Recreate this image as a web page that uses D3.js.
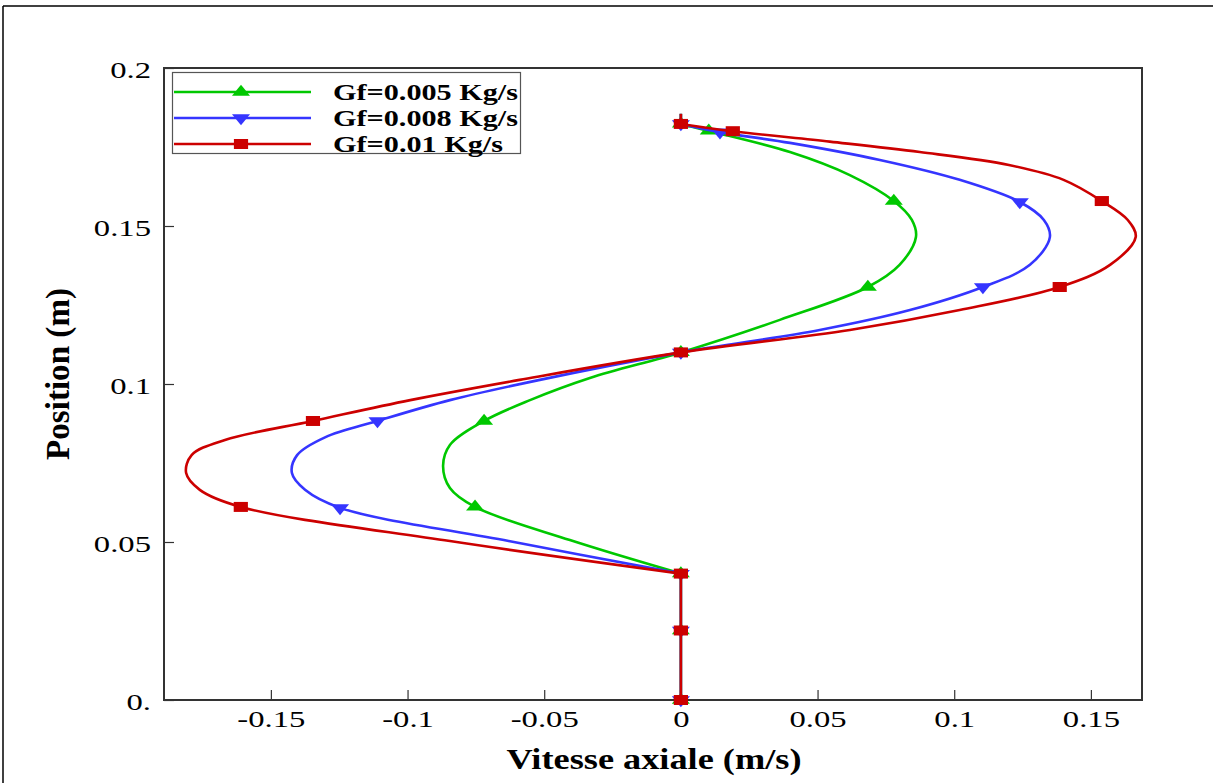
<!DOCTYPE html>
<html>
<head>
<meta charset="utf-8">
<script src="https://cdn.jsdelivr.net/npm/d3@7"></script>
<style>
  html, body { margin: 0; padding: 0; background: #fff; }
  svg { display: block; }
</style>
</head>
<body>
<svg id="chart" width="1213" height="783"></svg>
<script>
// ---- data (velocity m/s, position m) ----
const seriesNames = ["Gf=0.005 Kg/s", "Gf=0.008 Kg/s", "Gf=0.01 Kg/s"];
const seriesColors = ["#00c800", "#3535ff", "#cc0000"];
const seriesMarkers = ["triangleUp", "triangleDown", "square"];

// lower straight part (v = 0) is shared by all series
const inletProfile = [[0,0],[0,0.022],[0,0.04]];
const topStem = [[0,0.1823],[0,0.1855]];

const green = [[0,0.04],[-0.0406,0.0506],[-0.0753,0.0611],[-0.0845,0.0671],[-0.087,0.0741],[-0.0845,0.0807],[-0.072,0.0883],[-0.0552,0.0949],[-0.0333,0.1019],[0,0.110],[0.0362,0.1203],[0.0684,0.1307],[0.080,0.1377],[0.086,0.1465],[0.0845,0.1519],[0.0779,0.1579],[0.0618,0.1661],[0.0399,0.1734],[0.0102,0.1801],[0,0.1823]];
const greenMarkerIdx = [0,2,6,9,11,15,18,19];

const blue = [[0,0.04],[-0.063,0.0503],[-0.1247,0.0608],[-0.1375,0.0665],[-0.1423,0.0718],[-0.1404,0.0775],[-0.130,0.0832],[-0.111,0.0883],[-0.0845,0.0949],[-0.0516,0.1013],[0,0.110],[0.0508,0.1171],[0.0838,0.1234],[0.1105,0.1307],[0.1277,0.1377],[0.135,0.1465],[0.1328,0.1519],[0.124,0.1576],[0.102,0.1646],[0.0728,0.1709],[0.0399,0.1763],[0.0143,0.1797],[0,0.1823]];
const blueMarkerIdx = [0,2,7,10,13,17,21,22];

const red = [[0,0.04],[-0.0845,0.0503],[-0.161,0.0611],[-0.176,0.0665],[-0.181,0.0718],[-0.179,0.0775],[-0.1668,0.0823],[-0.1346,0.0883],[-0.099,0.0949],[-0.059,0.1013],[0,0.110],[0.0618,0.1171],[0.102,0.1234],[0.1386,0.1307],[0.157,0.1377],[0.1664,0.1465],[0.1635,0.1519],[0.154,0.1579],[0.140,0.1646],[0.120,0.1693],[0.0874,0.1734],[0.0545,0.1767],[0.019,0.180],[0,0.1823]];
const redMarkerIdx = [0,2,7,10,13,17,22,23];

const xTicks = [-0.15, -0.1, -0.05, 0, 0.05, 0.1, 0.15];
const xTickLabels = ["-0.15", "-0.1", "-0.05", "0", "0.05", "0.1", "0.15"];
const yTicks = [0, 0.05, 0.1, 0.15, 0.2];
const yTickLabels = ["0.", "0.05", "0.1", "0.15", "0.2"];
const xMinorTicks = d3.range(-18, 17).map(d => d / 100);
const yMinorTicks = d3.range(0, 21).map(d => d / 100);

const xTitle = "Vitesse axiale (m/s)";
const yTitle = "Position (m)";

// ---- layout ----
const SX = 1.42; // horizontal glyph stretch seen in the reference
const plot = { left: 164, right: 1142, top: 68, bottom: 700 };
const svg = d3.select("#chart");

const x = d3.scaleLinear().domain([-0.1891, 0.1687]).range([plot.left, plot.right]);
const y = d3.scaleLinear().domain([0, 0.2]).range([plot.bottom, plot.top]);

// outer frame
svg.append("line").attr("x1", 3).attr("x2", 1213).attr("y1", 6).attr("y2", 6).attr("stroke", "#000").attr("stroke-width", 1.5);
svg.append("line").attr("x1", 3).attr("x2", 3).attr("y1", 6).attr("y2", 783).attr("stroke", "#000").attr("stroke-width", 1.5);

const fontSerif = "'Liberation Serif', 'Times New Roman', serif";

// axes ticks (inward)
const gx = svg.append("g").attr("transform", `translate(0,${plot.bottom})`);
gx.call(d3.axisBottom(x).tickValues(xMinorTicks).tickSize(-5).tickFormat(""));
gx.call(d3.axisBottom(x).tickValues(xTicks).tickSize(-10).tickFormat((d, i) => xTickLabels[i]));
gx.selectAll(".domain").remove();
gx.selectAll("line").attr("stroke", "#333").attr("stroke-width", 1.2);
gx.selectAll("text")
  .attr("x", 0).attr("y", 0).attr("dy", 0)
  .attr("transform", `translate(0,27) scale(${SX},1)`)
  .attr("font-family", fontSerif).attr("font-size", 23).attr("fill", "#000")
  .attr("text-anchor", "middle");

const gy = svg.append("g").attr("transform", `translate(${plot.left},0)`);
gy.call(d3.axisLeft(y).tickValues(yMinorTicks).tickSize(-5).tickFormat(""));
gy.call(d3.axisLeft(y).tickValues(yTicks).tickSize(-10).tickFormat((d, i) => yTickLabels[i]));
gy.selectAll(".domain").remove();
gy.selectAll("line").attr("stroke", "#333").attr("stroke-width", 1.2);
gy.selectAll("text")
  .attr("x", 0).attr("y", 0).attr("dy", "0.35em")
  .attr("transform", `translate(-13,1) scale(${SX},1)`)
  .attr("font-family", fontSerif).attr("font-size", 23).attr("fill", "#000")
  .attr("text-anchor", "end");

// plot frame
svg.append("rect")
  .attr("x", plot.left).attr("y", plot.top)
  .attr("width", plot.right - plot.left).attr("height", plot.bottom - plot.top)
  .attr("fill", "none").attr("stroke", "#333").attr("stroke-width", 2);

// markers
function markerPath(type) {
  if (type === "square") return d3.symbol(d3.symbolSquare, 100)();
  return d3.symbol(d3.symbolTriangle, 70)();
}
function markerTransform(type, px, py) {
  if (type === "triangleDown") return `translate(${px},${py}) scale(${SX},1) rotate(180)`;
  return `translate(${px},${py}) scale(${SX},1)`;
}

const straight = d3.line().x(d => x(d[0])).y(d => y(d[1]));
const smooth = d3.line().x(d => x(d[0])).y(d => y(d[1])).curve(d3.curveCatmullRom.alpha(0.5));

const series = [
  { data: green, idx: greenMarkerIdx },
  { data: blue, idx: blueMarkerIdx },
  { data: red, idx: redMarkerIdx }
];

series.forEach((s, k) => {
  const g = svg.append("g");
  [straight(inletProfile), smooth(s.data), straight(topStem)].forEach(dd => {
    g.append("path").attr("d", dd)
      .attr("fill", "none").attr("stroke", seriesColors[k]).attr("stroke-width", 2.6)
      .attr("stroke-linejoin", "round");
  });
  const pts = inletProfile.slice(0, 2).concat(s.idx.map(i => s.data[i]));
  g.selectAll("path.mk").data(pts).join("path")
    .attr("class", "mk")
    .attr("d", markerPath(seriesMarkers[k]))
    .attr("transform", d => markerTransform(seriesMarkers[k], x(d[0]), y(d[1])))
    .attr("fill", seriesColors[k]);
});

// legend
const legend = svg.append("g");
legend.append("rect").attr("x", 172.5).attr("y", 72.5).attr("width", 348).attr("height", 81)
  .attr("fill", "#fff").attr("stroke", "#555").attr("stroke-width", 1.2);
const legendWidths = [185, 185, 170];
seriesNames.forEach((name, k) => {
  const ly = 92 + k * 26;
  legend.append("line").attr("x1", 174).attr("x2", 311).attr("y1", ly).attr("y2", ly)
    .attr("stroke", seriesColors[k]).attr("stroke-width", 2.6);
  legend.append("path").attr("d", markerPath(seriesMarkers[k]))
    .attr("transform", markerTransform(seriesMarkers[k], 241, ly))
    .attr("fill", seriesColors[k]);
  legend.append("text").attr("x", 333).attr("y", ly + 8)
    .attr("font-family", fontSerif).attr("font-weight", "bold").attr("font-size", 22.5)
    .attr("textLength", legendWidths[k]).attr("lengthAdjust", "spacingAndGlyphs")
    .text(name);
});

// axis titles
svg.append("text").attr("x", 654).attr("y", 769)
  .attr("text-anchor", "middle")
  .attr("font-family", fontSerif).attr("font-weight", "bold").attr("font-size", 29)
  .attr("textLength", 295).attr("lengthAdjust", "spacingAndGlyphs")
  .text(xTitle);

svg.append("text")
  .attr("transform", `translate(69,374) scale(${SX},1) rotate(-90)`)
  .attr("text-anchor", "middle")
  .attr("font-family", fontSerif).attr("font-weight", "bold").attr("font-size", 24)
  .attr("textLength", 172).attr("lengthAdjust", "spacingAndGlyphs")
  .text(yTitle);
</script>
</body>
</html>
